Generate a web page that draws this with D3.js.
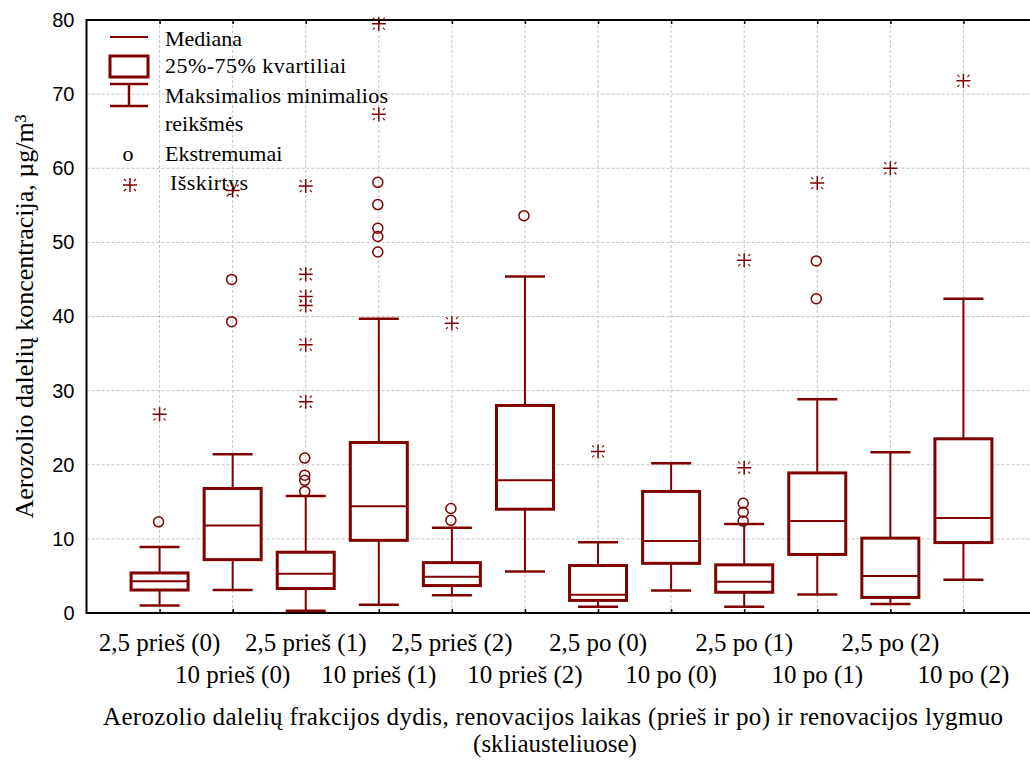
<!DOCTYPE html>
<html>
<head>
<meta charset="utf-8">
<script src="https://cdn.jsdelivr.net/npm/d3@7/dist/d3.min.js"></script>
<style>
  html, body { margin: 0; padding: 0; background: #fff; }
  svg { display: block; }
</style>
</head>
<body>
<script>
// ---------- DATA ----------
const categories = ["2,5 prieš (0)", "10 prieš (0)", "2,5 prieš (1)", "10 prieš (1)",
  "2,5 prieš (2)", "10 prieš (2)", "2,5 po (0)", "10 po (0)",
  "2,5 po (1)", "10 po (1)", "2,5 po (2)", "10 po (2)"];
const whiskerMin = [1.0, 3.1, 0.3, 1.1, 2.4, 5.6, 0.85, 3.05, 0.85, 2.5, 1.2, 4.5];
const q1 =         [3.1, 7.2, 3.3, 9.8, 3.7, 14.0, 1.7, 6.7, 2.8, 7.9, 2.1, 9.5];
const medians =    [4.3, 11.8, 5.3, 14.4, 4.9, 17.9, 2.45, 9.7, 4.2, 12.4, 5.0, 12.8];
const q3 =         [5.4, 16.8, 8.2, 23.0, 6.8, 28.0, 6.4, 16.4, 6.5, 18.9, 10.1, 23.5];
const whiskerMax = [8.9, 21.4, 15.8, 39.7, 11.5, 45.4, 9.55, 20.2, 12.0, 28.85, 21.7, 42.4];
// extremes (circles) and outliers (asterisks) per category
const extremes = [[12.3], [45.0, 39.3], [20.9, 18.6, 17.9, 16.4], [58.1, 55.1, 51.9, 50.8, 48.7],
  [14.1, 12.5], [53.6], [], [], [14.8, 13.6, 12.4], [47.5, 42.4], [], []];
const outliers = [[26.8], [57.0], [57.6, 45.7, 42.7, 41.5, 36.2, 28.5], [79.5, 67.3],
  [39.1], [], [21.8], [], [47.6, 19.6], [58.0], [60.0], [71.8]];
const yTicks = [0, 10, 20, 30, 40, 50, 60, 70, 80];
const legendLabels = ["Mediana", "25%-75% kvartiliai", "Maksimalios minimalios", "reikšmės", "Ekstremumai", "Išskirtys"];
const yTitle = "Aerozolio dalelių koncentracija, µg/m³";
const xTitle1 = "Aerozolio dalelių frakcijos dydis, renovacijos laikas (prieš ir po) ir renovacijos lygmuo";
const xTitle2 = "(skliausteliuose)";

// ---------- SETUP ----------
const W = 1030, H = 760;
const RED = "#800000";
const SERIF = "'Liberation Serif', 'Times New Roman', serif";
const SANS = "'Liberation Sans', Arial, sans-serif";

const svg = d3.select("body").append("svg").attr("width", W).attr("height", H);

const x = d3.scaleLinear().domain([-1, 12]).range([86.5, 1036.5]);
const y = d3.scaleLinear().domain([0, 80]).range([613, 20]);
const idx = d3.range(categories.length);
const left = x(-1), right = x(12);

// ---------- GRID ----------
const grid = svg.append("g").attr("stroke", "#c4c4c4").attr("stroke-width", 1).attr("stroke-dasharray", "3,2");
grid.selectAll("line.h").data(yTicks.filter(t => t > 0 && t < 80)).join("line")
  .attr("x1", left).attr("x2", right).attr("y1", d => y(d)).attr("y2", d => y(d));
grid.selectAll("line.v").data(idx).join("line")
  .attr("x1", d => x(d)).attr("x2", d => x(d)).attr("y1", y(80)).attr("y2", y(0));

// ---------- AXES ----------
const yAxis = d3.axisLeft(y).tickValues(yTicks).tickSize(0).tickPadding(12);
const yg = svg.append("g").attr("transform", `translate(${left},0)`).call(yAxis);
yg.select(".domain").remove();
yg.selectAll("text").attr("font-family", SANS).attr("font-size", 20).attr("fill", "#000");

const bAxis = d3.axisBottom(x).tickValues(idx).tickSize(-4).tickFormat("");
const bg = svg.append("g").attr("transform", `translate(0,${y(0)})`).call(bAxis);
bg.select(".domain").remove();
bg.selectAll("line").attr("stroke", "#000").attr("stroke-width", 1.5);
const tAxis = d3.axisTop(x).tickValues(idx).tickSize(-4).tickFormat("");
const tg = svg.append("g").attr("transform", `translate(0,${y(80)})`).call(tAxis);
tg.select(".domain").remove();
tg.selectAll("line").attr("stroke", "#000").attr("stroke-width", 1.5);

// frame
const frame = svg.append("g").attr("stroke", "#000").attr("stroke-width", 2).attr("fill", "none");
frame.append("line").attr("x1", left).attr("x2", left).attr("y1", y(80) - 1).attr("y2", y(0) + 1);
frame.append("line").attr("x1", left).attr("x2", right).attr("y1", y(0)).attr("y2", y(0));
frame.append("line").attr("x1", left).attr("x2", right).attr("y1", y(80)).attr("y2", y(80));

// x tick labels (two staggered rows)
svg.append("g").selectAll("text").data(idx).join("text")
  .attr("x", d => x(d))
  .attr("y", d => d % 2 === 0 ? 651 : 683)
  .attr("text-anchor", "middle")
  .attr("font-family", SERIF).attr("font-size", 25).attr("fill", "#000")
  .text(d => categories[d]);

// axis titles
svg.append("text").attr("x", 553).attr("y", 725).attr("text-anchor", "middle")
  .attr("font-family", SERIF).attr("font-size", 25).attr("fill", "#000")
  .attr("textLength", 900).attr("lengthAdjust", "spacing")
  .text(xTitle1);
svg.append("text").attr("x", 555).attr("y", 752).attr("text-anchor", "middle")
  .attr("font-family", SERIF).attr("font-size", 25).attr("fill", "#000")
  .text(xTitle2);
svg.append("text").attr("transform", `translate(33,${(y(0) + y(80)) / 2}) rotate(-90)`)
  .attr("text-anchor", "middle")
  .attr("font-family", SERIF).attr("font-size", 26).attr("fill", "#000")
  .text(yTitle);

// ---------- LEGEND ----------
const lg = svg.append("g");
const legTx = 165;
lg.append("line").attr("x1", 110).attr("x2", 148).attr("y1", 37).attr("y2", 37)
  .attr("stroke", RED).attr("stroke-width", 2);
lg.append("rect").attr("x", 110).attr("y", 56).attr("width", 38).attr("height", 21)
  .attr("fill", "#fff").attr("stroke", RED).attr("stroke-width", 3);
lg.append("path").attr("d", "M110,84H148M110,106H148M129,84V106")
  .attr("fill", "none").attr("stroke", RED).attr("stroke-width", 2.5);
lg.append("text").attr("x", 128).attr("y", 161).attr("text-anchor", "middle")
  .attr("font-family", SERIF).attr("font-size", 22).attr("fill", "#000").text("o");
const legY = [46, 73, 103, 131, 161, 190];
const legX = [legTx, legTx, legTx, legTx, legTx, legTx + 5];
const legLen = [null, 181, 223, null, null, 78];
lg.selectAll("text.lab").data(legendLabels).join("text").attr("class", "lab")
  .attr("x", (d, i) => legX[i]).attr("y", (d, i) => legY[i])
  .attr("font-family", SERIF).attr("font-size", 22).attr("fill", "#000")
  .each(function (d, i) { if (legLen[i]) d3.select(this).attr("textLength", legLen[i]).attr("lengthAdjust", "spacing"); })
  .text(d => d);

// asterisk marker: a plus sign with four small detached diagonal dashes
function drawStar(sel) {
  sel.append("path")
    .attr("d", "M-7,0H7M0,-7V7")
    .attr("fill", "none").attr("stroke", RED).attr("stroke-width", 1.5);
  sel.append("path")
    .attr("d", "M-6,-6L-4,-4M6,-6L4,-4M-6,6L-4,4M6,6L4,4")
    .attr("fill", "none").attr("stroke", RED).attr("stroke-width", 1.1);
}
lg.append("g").attr("transform", "translate(130,185)").call(drawStar);

// ---------- BOXES ----------
const boxW = 57, capW = 40;
const boxes = svg.append("g").selectAll("g").data(idx).join("g");
// whiskers
boxes.append("line").attr("x1", d => x(d)).attr("x2", d => x(d))
  .attr("y1", d => y(q3[d])).attr("y2", d => y(whiskerMax[d]))
  .attr("stroke", RED).attr("stroke-width", 2);
boxes.append("line").attr("x1", d => x(d)).attr("x2", d => x(d))
  .attr("y1", d => y(q1[d])).attr("y2", d => y(whiskerMin[d]))
  .attr("stroke", RED).attr("stroke-width", 2);
boxes.append("line").attr("x1", d => x(d) - capW / 2).attr("x2", d => x(d) + capW / 2)
  .attr("y1", d => y(whiskerMax[d])).attr("y2", d => y(whiskerMax[d]))
  .attr("stroke", RED).attr("stroke-width", 2.5);
boxes.append("line").attr("x1", d => x(d) - capW / 2).attr("x2", d => x(d) + capW / 2)
  .attr("y1", d => y(whiskerMin[d])).attr("y2", d => y(whiskerMin[d]))
  .attr("stroke", RED).attr("stroke-width", 2.5);
// box
boxes.append("rect").attr("x", d => x(d) - boxW / 2).attr("width", boxW)
  .attr("y", d => y(q3[d])).attr("height", d => y(q1[d]) - y(q3[d]))
  .attr("fill", "#fff").attr("stroke", RED).attr("stroke-width", 3);
// median
boxes.append("line").attr("x1", d => x(d) - boxW / 2).attr("x2", d => x(d) + boxW / 2)
  .attr("y1", d => y(medians[d])).attr("y2", d => y(medians[d]))
  .attr("stroke", RED).attr("stroke-width", 2);

// extremes (circles)
const extPts = idx.flatMap(i => extremes[i].map(v => ({ i, v })));
svg.append("g").selectAll("circle").data(extPts).join("circle")
  .attr("cx", d => x(d.i) - 1).attr("cy", d => y(d.v)).attr("r", 5)
  .attr("fill", "none").attr("stroke", RED).attr("stroke-width", 1.5);

// outliers (asterisks)
const outPts = idx.flatMap(i => outliers[i].map(v => ({ i, v })));
svg.append("g").selectAll("g").data(outPts).join("g")
  .attr("transform", d => `translate(${x(d.i)},${y(d.v)})`)
  .call(drawStar);
</script>
</body>
</html>
